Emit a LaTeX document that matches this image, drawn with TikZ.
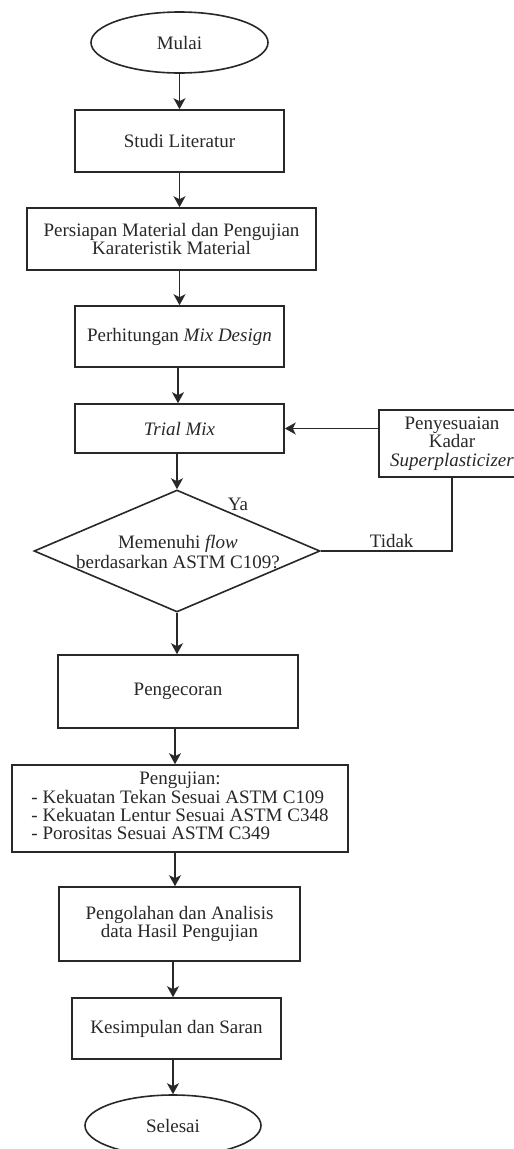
\documentclass[tikz,border=0pt]{standalone}
\usepackage{fontspec}
\setmainfont{Liberation Serif}
\usetikzlibrary{shapes.geometric,arrows.meta}
\definecolor{ink}{RGB}{40,40,40}
\begin{document}
\begin{tikzpicture}[x=1pt,y=-1pt,
  box/.style={draw=ink, line width=1.6pt, rectangle, inner sep=0pt, align=center, text=ink, font=\fontsize{19}{18.5}\selectfont},
  term/.style={draw=ink, line width=1.6pt, ellipse, inner sep=0pt, text=ink, font=\fontsize{19}{18.5}\selectfont},
  dia/.style={draw=ink, line width=1.6pt, diamond, inner sep=0pt, minimum width=286pt, minimum height=122pt},
  txt/.style={text=ink, align=center, inner sep=2pt, font=\fontsize{19}{20}\selectfont},
  arr/.style={draw=ink, line width=1.6pt, -{Stealth[length=11pt,width=12pt,inset=3pt]}},
  link/.style={draw=ink, line width=1.6pt}]
\clip (0,0) rectangle (514,1149);
\fill[white] (0,0) rectangle (514,1149);
\node[term, minimum width=177pt, minimum height=61pt] (mulai) at (179.5,42.5) {Mulai};
\node[box, minimum width=209pt, minimum height=62pt] (studi) at (179.5,141) {Studi Literatur};
\node[box, minimum width=289pt, minimum height=62pt] (pers) at (171.5,239) {Persiapan Material dan Pengujian\\Karateristik Material};
\node[box, minimum width=209pt, minimum height=61pt] (perh) at (179.5,336.5) {Perhitungan \textit{Mix Design}};
\node[box, minimum width=209pt, minimum height=49pt] (trial) at (179.5,428.5) {\textit{Trial Mix}};
\node[box, minimum width=146pt, minimum height=67pt] (peny) at (452,443.5) {Penyesuaian\\Kadar\\\textit{Superplasticizer}};
\node[dia] (dec) at (177,551) {};
\node[txt] (dectext) at (178,552) {Memenuhi \textit{flow}\\berdasarkan ASTM C109?};
\node[box, minimum width=240pt, minimum height=73pt] (cor) at (178,691.5) {Pengecoran};
\node[box, minimum width=336pt, minimum height=87pt] (uji) at (180,808.5) {\fontsize{19}{18}\selectfont\begin{tabular}{@{}l@{}}\multicolumn{1}{@{}c@{}}{Pengujian:}\\- Kekuatan Tekan Sesuai ASTM C109\\- Kekuatan Lentur Sesuai ASTM C348\\- Porositas Sesuai ASTM C349\end{tabular}};
\node[box, minimum width=241pt, minimum height=74pt] (olah) at (179.5,924) {Pengolahan dan Analisis\\data Hasil Pengujian};
\node[box, minimum width=209pt, minimum height=61pt] (kes) at (176.5,1028.5) {Kesimpulan dan Saran};
\node[term, minimum width=176pt, minimum height=61pt] (sel) at (173,1125.5) {Selesai};
\draw[arr] (mulai.south) -- (studi.north);
\draw[arr] (studi.south) -- (studi.south |- pers.north);
\draw[arr] (perh.north |- pers.south) -- (perh.north);
\draw[arr] ([xshift=-1.5pt]perh.south) -- ([xshift=-1.5pt]trial.north);
\draw[arr] (dec.north |- trial.south) -- (dec.north);
\draw[arr] (dec.south) -- (dec.south |- cor.north);
\draw[arr] ([xshift=-3pt]cor.south) -- ([xshift=-3pt]cor.south |- uji.north);
\draw[arr] ([xshift=-5pt]uji.south) -- ([xshift=-5pt]uji.south |- olah.north);
\draw[arr] ([xshift=-6.5pt]olah.south) -- ([xshift=-6.5pt]olah.south |- kes.north);
\draw[arr] (sel.north |- kes.south) -- (sel.north);
\draw[arr] (peny.west |- trial.east) -- (trial.east);
\draw[link] (peny.south) |- (dec.east) node[txt, pos=0.73, above, inner sep=3pt] (tidak) {Tidak};
\node[txt] (ya) at (238,504) {Ya};
\end{tikzpicture}
\end{document}
